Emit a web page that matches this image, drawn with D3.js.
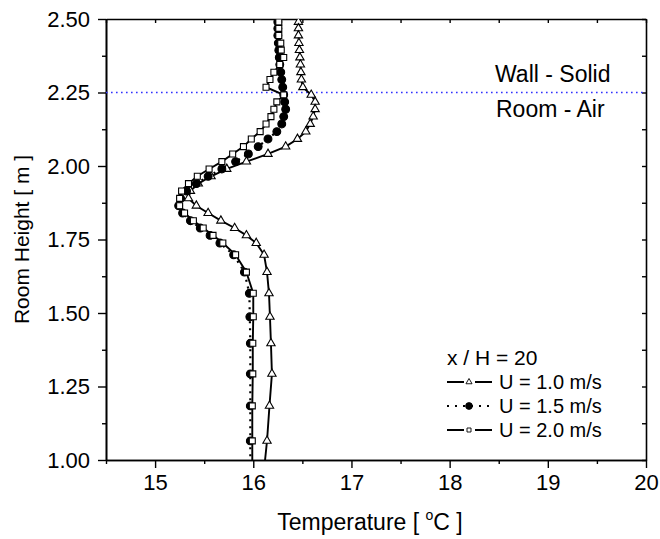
<!DOCTYPE html>
<html>
<head>
<meta charset="utf-8">
<script src="https://cdn.jsdelivr.net/npm/d3@7"></script>
<style>
  body { margin: 0; background: #fff; }
  svg text { font-family: "Liberation Sans", Arial, Helvetica, sans-serif; fill: #000; }
</style>
</head>
<body>
<div id="chart"></div>
<script>
/*** Temperature profiles vs. room height, x / H = 20 ***/

// *** data ***
var heights = [2.50, 2.490, 2.468, 2.444, 2.418, 2.394, 2.369, 2.345, 2.319, 2.294,
    2.268, 2.242, 2.218, 2.193, 2.168, 2.143, 2.117, 2.092, 2.066, 2.041,
    2.015, 1.990, 1.965, 1.940, 1.915, 1.890, 1.865, 1.840, 1.814, 1.789,
    1.764, 1.738, 1.698, 1.639, 1.567, 1.487, 1.397, 1.293, 1.184, 1.065, 1.00];

var tempU10 = [16.46, 16.46, 16.46, 16.46, 16.465, 16.47, 16.475, 16.48, 16.485, 16.49,
    16.505, 16.59, 16.63, 16.63, 16.61, 16.58, 16.535, 16.45, 16.33, 16.15,
    15.93, 15.73, 15.57, 15.44, 15.36, 15.34, 15.42, 15.54, 15.67, 15.81,
    15.93, 16.03, 16.11, 16.14, 16.16, 16.17, 16.18, 16.19, 16.165, 16.14, 16.12];

var tempU15 = [16.25, 16.25, 16.25, 16.25, 16.255, 16.26, 16.265, 16.27, 16.28, 16.29,
    16.30, 16.31, 16.32, 16.33, 16.31, 16.29, 16.24, 16.15, 16.05, 15.95,
    15.82, 15.68, 15.54, 15.42, 15.32, 15.26, 15.24, 15.28, 15.36, 15.46,
    15.56, 15.66, 15.80, 15.91, 15.96, 15.965, 15.97, 15.97, 15.97, 15.97, 15.97];

var tempU20 = [16.26, 16.26, 16.26, 16.26, 16.28, 16.285, 16.31, 16.27, 16.21, 16.17,
    16.13, 16.31, 16.24, 16.21, 16.18, 16.13, 16.07, 15.98, 15.90, 15.79,
    15.68, 15.55, 15.43, 15.34, 15.27, 15.25, 15.25, 15.30, 15.39, 15.49,
    15.59, 15.69, 15.82, 15.93, 16.00, 16.00, 15.995, 15.995, 15.99, 15.99, 15.99];

var seriesNames = ["U = 1.0 m/s", "U = 1.5 m/s", "U = 2.0 m/s"];
var legendTitle = "x / H = 20";

var xTicks = [15, 16, 17, 18, 19, 20];
var xMinor = [14.5, 15.5, 16.5, 17.5, 18.5, 19.5];
var yTicks = [1.00, 1.25, 1.50, 1.75, 2.00, 2.25, 2.50];
var yMinor = [1.125, 1.375, 1.625, 1.875, 2.125, 2.375];

var interfaceHeight = 2.25;

// *** layout ***
var margin = {top: 19, left: 106, right: 14, bottom: 79};
var totalW = 660, totalH = 539;
var width = totalW - margin.left - margin.right;
var height = totalH - margin.top - margin.bottom;

var x = d3.scaleLinear().domain([14.5, 20]).range([0, width]);
var y = d3.scaleLinear().domain([1.0, 2.5]).range([height, 0]);

var svg = d3.select("#chart").append("svg")
    .attr("width", totalW)
    .attr("height", totalH);

svg.append("defs").append("clipPath")
    .attr("id", "clip")
  .append("rect")
    .attr("width", width)
    .attr("height", height);

var plot = svg.append("g")
    .attr("transform", "translate(" + margin.left + "," + margin.top + ")");

// *** axes ***
function styleAxis(g) {
    g.select(".domain").attr("stroke", "#000").attr("stroke-width", 1.6);
    g.selectAll(".tick line").attr("stroke", "#000").attr("stroke-width", 1.4);
    g.selectAll(".tick text").attr("font-size", 22).attr("fill", "#000");
}

plot.append("g")
    .attr("transform", "translate(0," + height + ")")
    .call(d3.axisBottom(x).tickValues(xMinor).tickSize(4).tickSizeOuter(0).tickFormat(""))
    .call(styleAxis);
plot.append("g")
    .attr("transform", "translate(0," + height + ")")
    .call(d3.axisBottom(x).tickValues(xTicks).tickSize(8).tickSizeOuter(0)
        .tickPadding(6).tickFormat(d3.format("d")))
    .call(styleAxis);

plot.append("g")
    .call(d3.axisLeft(y).tickValues(yMinor).tickSize(4).tickSizeOuter(0).tickFormat(""))
    .call(styleAxis);
plot.append("g")
    .call(d3.axisLeft(y).tickValues(yTicks).tickSize(8).tickSizeOuter(0)
        .tickPadding(8).tickFormat(d3.format(".2f")))
    .call(styleAxis);

// top and right frame with small inward ticks
plot.append("g")
    .call(d3.axisTop(x).tickValues(xTicks.concat(xMinor)).tickSize(-4).tickSizeOuter(0).tickFormat(""))
    .call(styleAxis);
plot.append("g")
    .attr("transform", "translate(" + width + ",0)")
    .call(d3.axisRight(y).tickValues(yTicks.concat(yMinor)).tickSize(-4).tickSizeOuter(0).tickFormat(""))
    .call(styleAxis);

// *** wall / room interface ***
plot.append("line")
    .attr("x1", 0).attr("x2", width)
    .attr("y1", y(interfaceHeight)).attr("y2", y(interfaceHeight))
    .attr("stroke", "#3030ff")
    .attr("stroke-width", 1.6)
    .attr("stroke-dasharray", "1.6,3.4");

plot.append("text")
    .attr("x", 389).attr("y", y(interfaceHeight) - 11)
    .attr("font-size", 23)
    .text("Wall - Solid");
plot.append("text")
    .attr("x", 390).attr("y", y(interfaceHeight) + 24)
    .attr("font-size", 23)
    .text("Room - Air");

// *** curves ***
var series = [
    {name: seriesNames[0], temps: tempU10, symbol: d3.symbolTriangle, size: 30, fill: "#fff", dash: null},
    {name: seriesNames[1], temps: tempU15, symbol: d3.symbolCircle, size: 48, fill: "#000", dash: "2,5"},
    {name: seriesNames[2], temps: tempU20, symbol: d3.symbolSquare, size: 36, fill: "#fff", dash: null}
];

var line = d3.line()
    .x(function(d) { return x(d[0]); })
    .y(function(d) { return y(d[1]); });

var pad = plot.append("g").attr("clip-path", "url(#clip)");

series.forEach(function(s) {
    var pts = heights.map(function(h, i) { return [s.temps[i], h]; });
    pad.append("path")
        .datum(pts)
        .attr("fill", "none")
        .attr("stroke", "#000")
        .attr("stroke-width", s.dash ? 2.2 : 1.9)
        .attr("stroke-dasharray", s.dash)
        .attr("d", line);
});

series.forEach(function(s) {
    var pts = heights.map(function(h, i) { return [s.temps[i], h]; })
        .filter(function(d) { return d[1] > 1.0 && d[1] < 2.5; });
    pad.selectAll(null)
        .data(pts)
        .enter().append("path")
        .attr("transform", function(d) { return "translate(" + x(d[0]) + "," + y(d[1]) + ")"; })
        .attr("d", d3.symbol().type(s.symbol).size(s.size))
        .attr("fill", s.fill)
        .attr("stroke", "#000")
        .attr("stroke-width", 1.1);
});

// *** legend ***
var legend = plot.append("g").attr("transform", "translate(341,0)");
legend.append("text")
    .attr("x", 0).attr("y", 346)
    .attr("font-size", 21)
    .text(legendTitle);

series.forEach(function(s, i) {
    var ly = 363 + i * 24;
    var row = legend.append("g").attr("transform", "translate(0," + ly + ")");
    if (s.dash) {
        row.append("line").attr("x1", 0).attr("x2", 44)
            .attr("stroke", "#000").attr("stroke-width", 2.2).attr("stroke-dasharray", "2,6");
    } else {
        row.append("line").attr("x1", 0).attr("x2", 17).attr("stroke", "#000").attr("stroke-width", 2);
        row.append("line").attr("x1", 28).attr("x2", 45).attr("stroke", "#000").attr("stroke-width", 2);
    }
    row.append("path")
        .attr("transform", "translate(22,0)")
        .attr("d", d3.symbol().type(s.symbol).size(s.dash ? 36 : 16))
        .attr("fill", s.fill)
        .attr("stroke", "#000")
        .attr("stroke-width", 0.9);
    row.append("text")
        .attr("x", 52).attr("y", 7)
        .attr("font-size", 20)
        .text(s.name);
});

// *** axis titles ***
svg.append("text")
    .attr("transform", "translate(29," + (margin.top + height / 2) + ") rotate(-90)")
    .attr("text-anchor", "middle")
    .attr("font-size", 21)
    .text("Room Height [ m ]");

var xt = svg.append("text")
    .attr("x", margin.left + width / 2 - 6)
    .attr("y", 530)
    .attr("text-anchor", "middle")
    .attr("font-size", 23);
xt.append("tspan").text("Temperature [ ");
xt.append("tspan").attr("font-size", 14).attr("dy", -10).text("o");
xt.append("tspan").attr("dy", 10).text("C ]");
</script>
</body>
</html>
